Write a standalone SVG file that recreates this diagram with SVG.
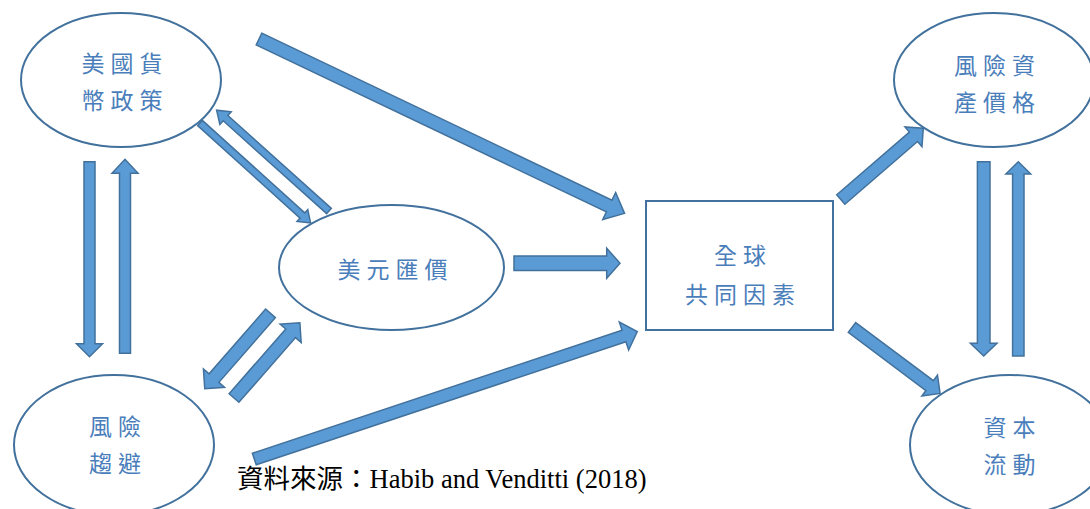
<svg xmlns="http://www.w3.org/2000/svg" width="1090" height="509" viewBox="0 0 1090 509">
<style>
.node{fill:#ffffff;stroke:#41719c;stroke-width:2}
.lbl{font-family:"Noto Sans CJK TC","Noto Sans CJK SC",sans-serif;font-size:23px;fill:#4a7ebb;text-anchor:middle;dominant-baseline:central;letter-spacing:6px}
.arr{fill:#5b9bd5;stroke:#41719c;stroke-width:1.5;stroke-linejoin:miter}
.src{font-family:"Liberation Serif","Noto Sans CJK TC",serif;font-size:26.5px;fill:#000000}
</style>
<rect width="1090" height="509" fill="#ffffff"/>
<g id="n-us-policy">
<ellipse class="node" cx="121" cy="80" rx="100" ry="67"/>
<text class="lbl" x="125" y="62">美國貨</text>
<text class="lbl" x="125" y="99">幣政策</text>
</g>
<g id="n-usd">
<ellipse class="node" cx="391.5" cy="267.5" rx="112.5" ry="62.5"/>
<text class="lbl" x="395.5" y="268">美元匯價</text>
</g>
<g id="n-risk-aversion">
<ellipse class="node" cx="114" cy="445" rx="100" ry="70"/>
<text class="lbl" x="118" y="425">風險</text>
<text class="lbl" x="118" y="462">趨避</text>
</g>
<g id="n-global">
<rect class="node" x="646" y="201" width="187" height="129"/>
<text class="lbl" x="743" y="254">全球</text>
<text class="lbl" x="743" y="293">共同因素</text>
</g>
<g id="n-risk-assets">
<ellipse class="node" cx="994" cy="80" rx="100" ry="67"/>
<text class="lbl" x="997.5" y="64">風險資</text>
<text class="lbl" x="997.5" y="101">產價格</text>
</g>
<g id="n-capital">
<ellipse class="node" cx="1010" cy="445" rx="100" ry="70"/>
<text class="lbl" x="1012.5" y="426">資本</text>
<text class="lbl" x="1012.5" y="463">流動</text>
</g>
<g id="connectors">
<path class="arr" transform="translate(259,39) rotate(25.5)" d="M0,-6.5 L388,-6.5 L388,-15 L405,0 L388,15 L388,6.5 L0,6.5 Z"/>
<path class="arr" transform="translate(200,123) rotate(42.1)" d="M0,-3.5 L138,-3.5 L138,-8 L149,0 L138,8 L138,3.5 L0,3.5 Z"/>
<path class="arr" transform="translate(329,211) rotate(-138.1)" d="M0,-3.5 L139,-3.5 L139,-8.5 L151,0 L139,8.5 L139,3.5 L0,3.5 Z"/>
<path class="arr" transform="translate(89.5,161.7) rotate(90)" d="M0,-5.5 L182,-5.5 L182,-13 L195,0 L182,13 L182,5.5 L0,5.5 Z"/>
<path class="arr" transform="translate(125,353.3) rotate(-90)" d="M0,-5.5 L180,-5.5 L180,-13 L194,0 L180,13 L180,5.5 L0,5.5 Z"/>
<path class="arr" transform="translate(270.5,313.3) rotate(131.1)" d="M0,-6.5 L86,-6.5 L86,-14 L100,0 L86,14 L86,6.5 L0,6.5 Z"/>
<path class="arr" transform="translate(234,398) rotate(-48.8)" d="M0,-6.5 L86,-6.5 L86,-14 L100,0 L86,14 L86,6.5 L0,6.5 Z"/>
<path class="arr" transform="translate(514,263.3) rotate(0)" d="M0,-7.3 L92.7,-7.3 L92.7,-15 L106,0 L92.7,15 L92.7,7.3 L0,7.3 Z"/>
<path class="arr" transform="translate(254.3,459) rotate(-18.4)" d="M0,-6.1 L389.6,-6.1 L389.6,-14.8 L403.6,0 L389.6,14.8 L389.6,6.1 L0,6.1 Z"/>
<path class="arr" transform="translate(840.8,199.5) rotate(-40.8)" d="M0,-6.2 L96,-6.2 L96,-13 L109,0 L96,13 L96,6.2 L0,6.2 Z"/>
<path class="arr" transform="translate(852,327.5) rotate(36.8)" d="M0,-6.2 L97,-6.2 L97,-13 L110,0 L97,13 L97,6.2 L0,6.2 Z"/>
<path class="arr" transform="translate(983.7,161.7) rotate(90)" d="M0,-6.3 L181.6,-6.3 L181.6,-13.3 L194.3,0 L181.6,13.3 L181.6,6.3 L0,6.3 Z"/>
<path class="arr" transform="translate(1018.3,356) rotate(-90)" d="M0,-5.7 L182,-5.7 L182,-12.4 L194.3,0 L182,12.4 L182,5.7 L0,5.7 Z"/>
</g>
<text class="src" x="237" y="488">資料來源：Habib and Venditti (2018)</text>
</svg>
